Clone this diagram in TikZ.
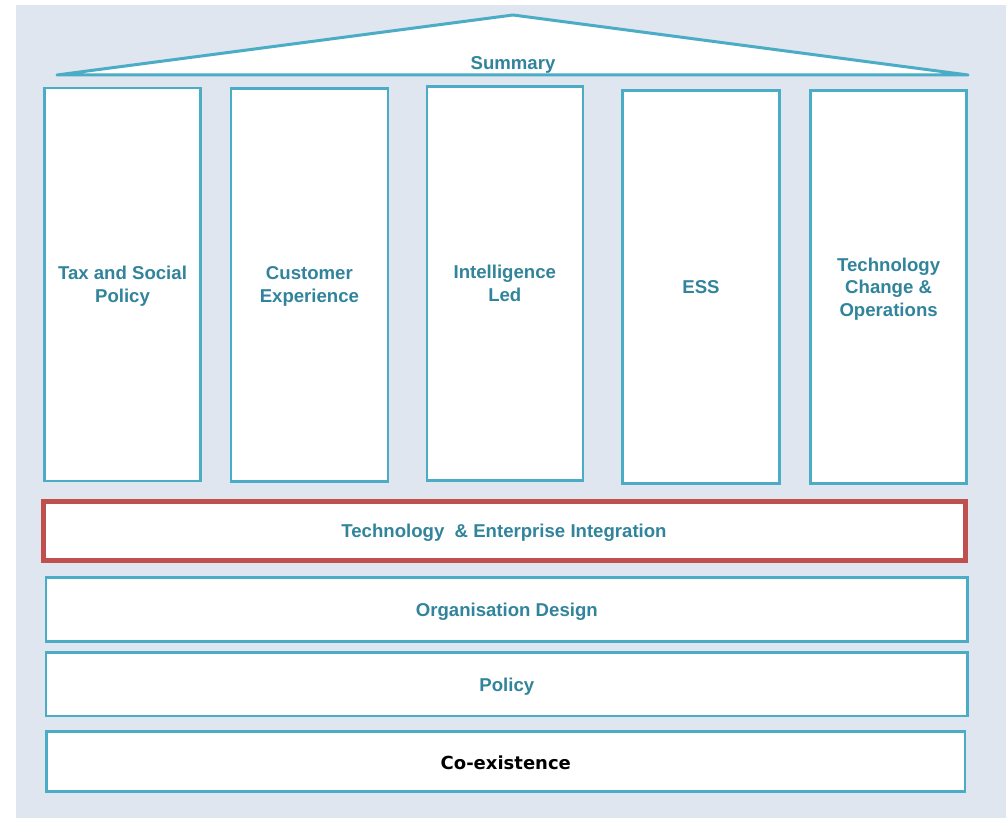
\documentclass[tikz,border=0pt]{standalone}
\usepackage{fontspec}
\setmainfont{Liberation Sans}
\newfontfamily\verdanalike{DejaVu Sans}
\definecolor{frameteal}{HTML}{4BACC6}
\definecolor{textteal}{HTML}{31849B}
\definecolor{framered}{HTML}{C0504D}
\definecolor{backdrop}{HTML}{DFE6F0}
\begin{document}
\begin{tikzpicture}[x=1pt,y=-1pt,
  label text/.style={text=textteal,font=\fontsize{18.6}{22.8}\selectfont\bfseries,align=center},
  pillar/.style={draw=frameteal,line width=2.6pt,fill=white,rectangle,inner sep=0pt,
    minimum width=#1,minimum height=393pt,label text,text depth=0pt},
  pillar/.default=156pt,
  layer/.style={draw=frameteal,line width=2.6pt,fill=white,rectangle,inner sep=0pt,
    minimum width=921.7pt,label text,text depth=0pt}]
\useasboundingbox (0,0) rectangle (1008,818);
\fill[white] (0,0) rectangle (1008,818);
\fill[backdrop] (16,5) rectangle (1006,818);

% roof
\draw[frameteal,line width=3pt,fill=white,line join=round] (57,75) -- (513,15) -- (968,75) -- cycle;
\node[label text,anchor=base] (summary) at (513,69.5) {Summary};

% pillars
\node[pillar] (tax) at (122.5,284.5) {Tax and Social\\Policy};
\node[pillar=157pt] (cx) at (309.4,284.8) {Customer\\Experience};
\node[pillar,minimum height=394pt] (intel) at (504.8,283.5) {Intelligence\\Led};
\node[pillar=156.6pt] (ess) at (701,287.2) {ESS};
\node[pillar] (tco) at (888.6,287.2) {Technology\\Change \&\\Operations};

% foundation layers
\node[draw=framered,line width=5pt,fill=white,rectangle,inner sep=0pt,
  minimum width=922pt,minimum height=59pt,label text,text depth=0pt] (tei) at (504,530.5)
  {Technology\ \ \& Enterprise Integration};
\node[layer,minimum height=64.4pt] (org) at (506.8,609.5) {Organisation Design};
\node[layer,minimum height=63.3pt] (pol) at (506.8,684.3) {Policy};
\node[layer,minimum width=918.3pt,minimum height=60.4pt,text=black,
  font=\verdanalike\fontsize{18}{22}\selectfont\bfseries] (coex) at (505.8,761.5)
  {\raisebox{-2pt}{Co-existence}};
\end{tikzpicture}
\end{document}
